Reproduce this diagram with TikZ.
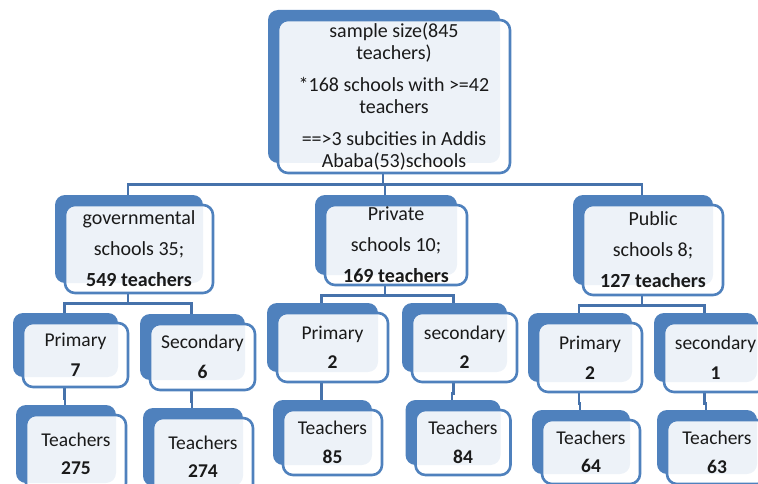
\documentclass[tikz,border=0pt]{standalone}
\usepackage{fontspec}
\setmainfont{Carlito}
\usepackage{xcolor}
\usetikzlibrary{shadows,backgrounds}

\definecolor{boxblue}{HTML}{4F81BD}
\definecolor{linkblue}{HTML}{4672AB}
\definecolor{txt}{HTML}{1A1A1A}

\tikzset{
  orgbox/.style={draw=boxblue, line width=2.6pt, rounded corners=10pt,
    fill=white, fill opacity=0.9, text opacity=1, text=txt,
    align=center, inner sep=0pt,
    general shadow={fill=boxblue, draw=none, fill opacity=1,
      shadow xshift=-10pt, shadow yshift=10pt},
    font=\fontsize{20}{22}\selectfont},
  lowbox/.style={orgbox, font=\fontsize{19.5}{22}\selectfont},
  link/.style={draw=linkblue, line width=2.7pt}
}

\begin{document}
\begin{tikzpicture}[x=1pt,y=-1pt]

\useasboundingbox (0,0) rectangle (758,484);
\clip (0,0) rectangle (758,484);

% top
\node[orgbox, minimum width=232pt, minimum height=153pt] (top) at (394,96.5)
  {sample size(845\\teachers)\\[10pt]*168 schools with >=42\\teachers\\[10pt]==>3 subcities in Addis\\Ababa(53)schools};

% second level
\node[orgbox, minimum width=148pt, minimum height=88pt] (gov) at (139,249)
  {governmental\\[9pt]schools 35;\\[9pt]\textbf{549 teachers}};
\node[orgbox, minimum width=142pt, minimum height=80pt] (priv) at (396,245)
  {Private\\[9pt]schools 10;\\[9pt]\textbf{169 teachers}};
\node[orgbox, minimum width=140pt, minimum height=90pt] (pub) at (653,250)
  {Public\\[9pt]schools 8;\\[9pt]\textbf{127 teachers}};

% governmental
\node[lowbox, minimum width=105pt, minimum height=64pt] (govprim) at (75.5,355) {Primary\\[8pt]\textbf{7}};
\node[lowbox, minimum width=105pt, minimum height=66pt] (govsec) at (202.5,357) {Secondary\\[8pt]\textbf{6}};
\node[lowbox, minimum width=100pt, minimum height=78pt] (govprimt) at (76,454) {Teachers\\[6pt]\textbf{275}};
\node[lowbox, minimum width=100pt, minimum height=78pt] (govsect) at (203,457) {Teachers\\[6pt]\textbf{274}};

% private
\node[lowbox, minimum width=111pt, minimum height=69pt] (privprim) at (332.5,347.5) {Primary\\[7pt]\textbf{2}};
\node[lowbox, minimum width=105pt, minimum height=69pt] (privsec) at (464.5,347.5) {secondary\\[7pt]\textbf{2}};
\node[lowbox, minimum width=99pt, minimum height=65pt] (privprimt) at (332.5,442.5) {Teachers\\[7pt]\textbf{85}};
\node[lowbox, minimum width=95pt, minimum height=65pt] (privsect) at (463,442.5) {Teachers\\[7pt]\textbf{84}};

% public
\node[lowbox, minimum width=104pt, minimum height=69pt] (pubprim) at (590,357.5) {Primary\\[8pt]\textbf{2}};
\node[lowbox, minimum width=103pt, minimum height=69pt] (pubsec) at (715.5,357.5) {secondary\\[8pt]\textbf{1}};
\node[lowbox, minimum width=98pt, minimum height=64pt] (pubprimt) at (591,452) {Teachers\\[6pt]\textbf{64}};
\node[lowbox, minimum width=100pt, minimum height=64pt] (pubsect) at (717,452) {Teachers\\[7pt]\textbf{63}};

\begin{scope}[on background layer]
\draw[link] ([xshift=-11pt]top.south) -- ++(0,10) coordinate (topbar);
\foreach \kid in {gov,priv,pub}
  \draw[link] (topbar) -| ([xshift=-11pt]\kid.north);

\foreach \up/\a/\b in {gov/govprim/govsec, priv/privprim/privsec, pub/pubprim/pubsec}{
  \draw[link] ([xshift=-11pt]\up.south) -- ++(0,9) coordinate (\up bar);
  \draw[link] (\up bar) -| ([xshift=-11pt]\a.north);
  \draw[link] (\up bar) -| ([xshift=-11pt]\b.north);
}

\foreach \a/\b in {govprim/govprimt, govsec/govsect, privprim/privprimt,
                   privsec/privsect, pubprim/pubprimt, pubsec/pubsect}
  \draw[link] ([xshift=-11pt]\a.south) -- ++(0,10) -| ([xshift=-11pt]\b.north);
\end{scope}

\end{tikzpicture}
\end{document}
